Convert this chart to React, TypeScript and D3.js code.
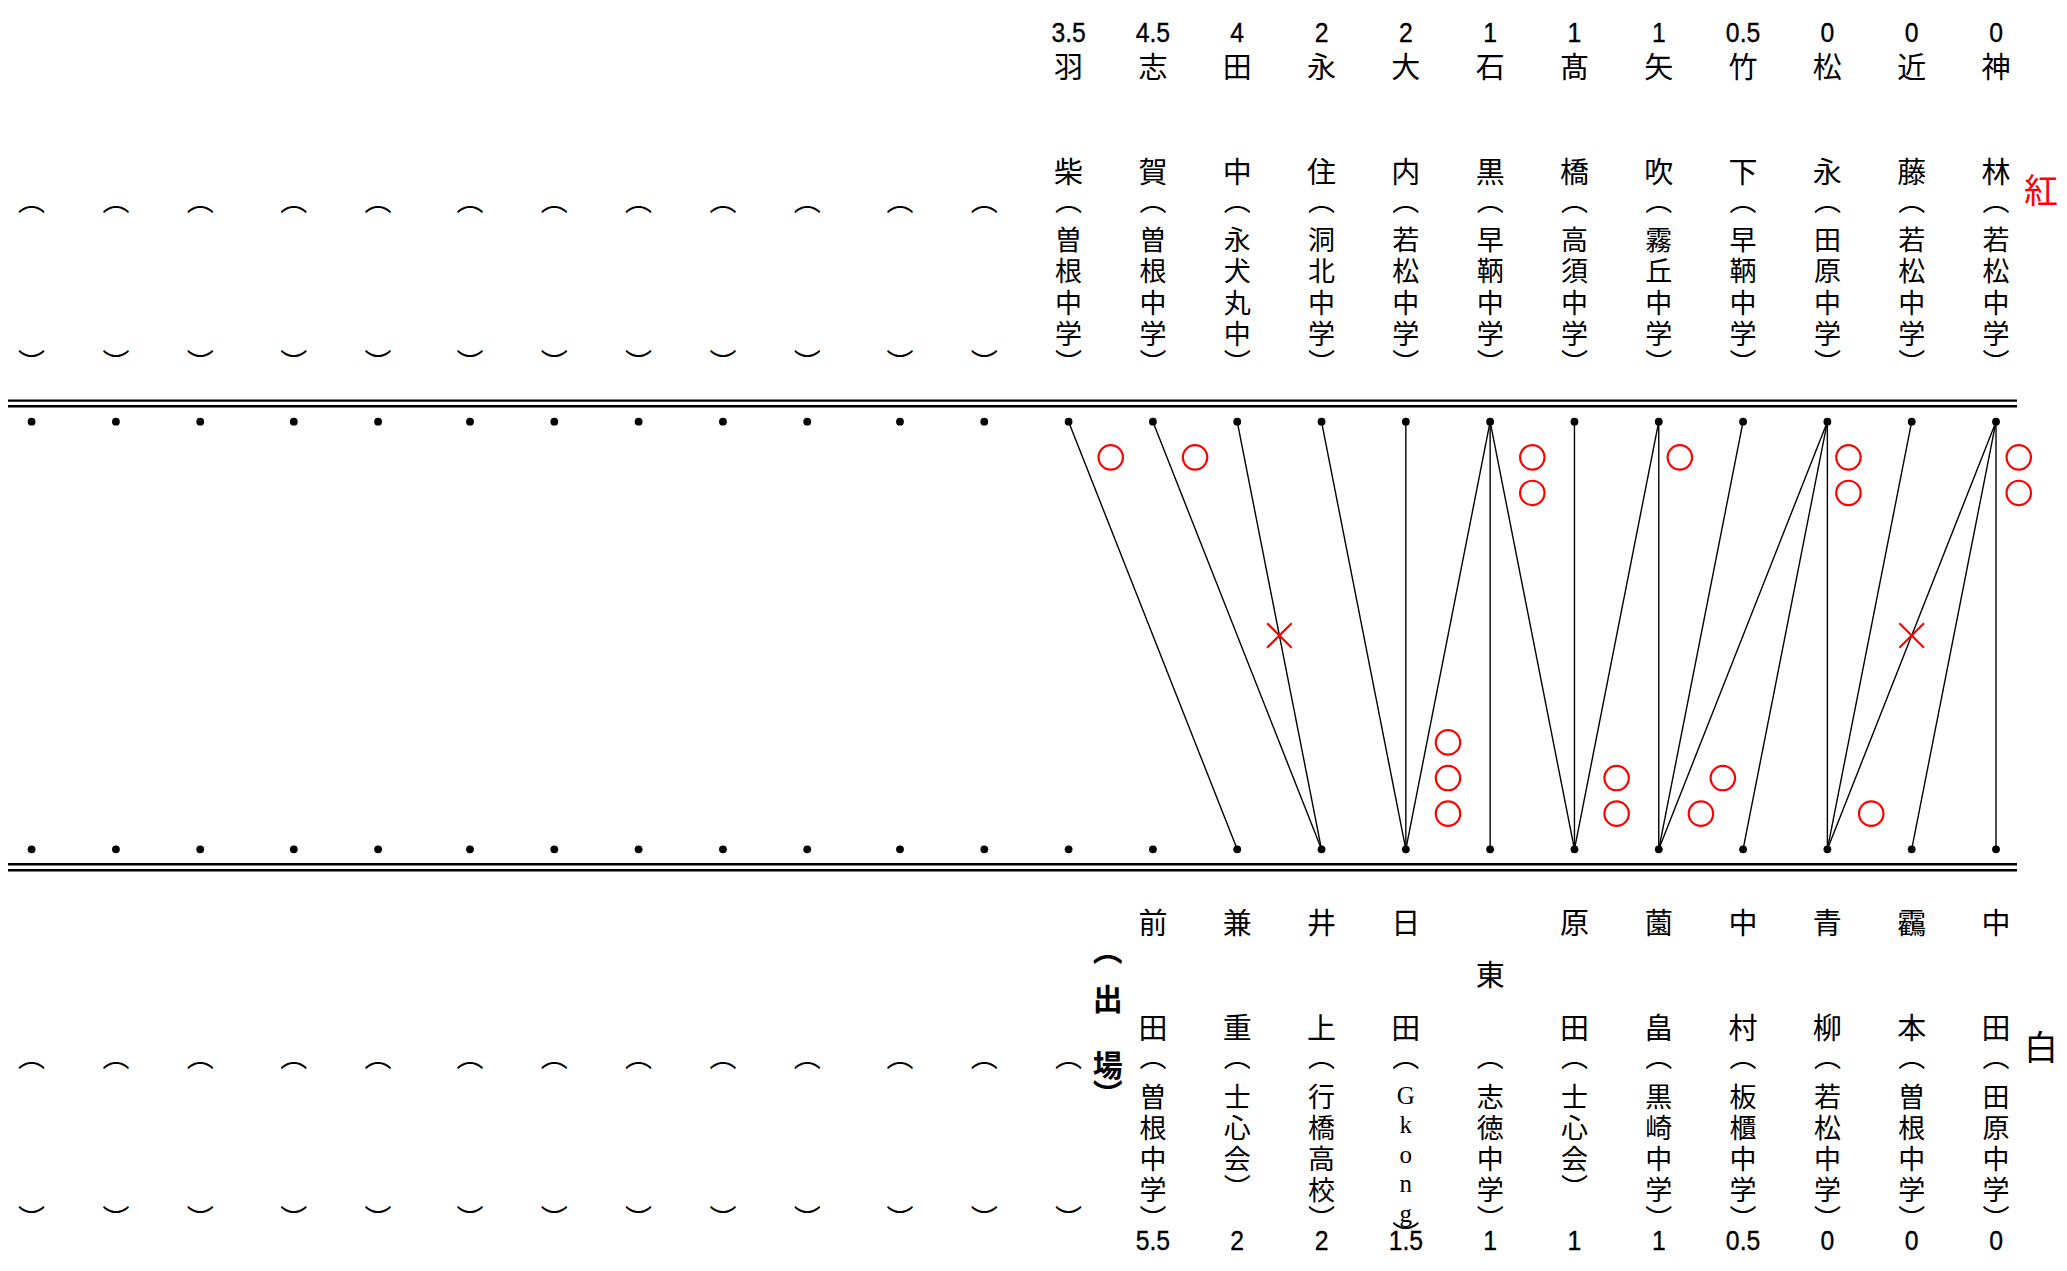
import React from 'react';
import * as d3 from 'd3';

const W = 2067;
const H = 1271;

// ---- data ----
const redScores = [3.5, 4.5, 4, 2, 2, 1, 1, 1, 0.5, 0, 0, 0];
const redNames = ["羽柴", "志賀", "田中", "永住", "大内", "石黒", "髙橋", "矢吹", "竹下", "松永", "近藤", "神林"];
const redSchools = ["曽根中学", "曽根中学", "永犬丸中", "洞北中学", "若松中学", "早鞆中学", "高須中学", "霧丘中学", "早鞆中学", "田原中学", "若松中学", "若松中学"];
const whiteNames = ["", "前田", "兼重", "井上", "日田", "東", "原田", "薗畠", "中村", "青柳", "靏本", "中田"];
const whiteSchools = ["", "曽根中学", "士心会", "行橋高校", "Gkong", "志徳中学", "士心会", "黒崎中学", "板櫃中学", "若松中学", "曽根中学", "田原中学"];
const whiteScores: (number | null)[] = [null, 5.5, 2, 2, 1.5, 1, 1, 1, 0.5, 0, 0, 0];
// bouts: [red column, white column]
const bouts: [number, number][] = [
  [0, 2], [1, 3], [2, 3], [3, 4], [4, 4], [5, 4], [5, 5], [5, 6], [6, 6], [7, 6],
  [7, 7], [8, 7], [9, 7], [9, 8], [9, 9], [10, 9], [11, 9], [11, 10], [11, 11],
];
// marks: kind, column position, row (12ths between the two dot rows)
const marks: { kind: 'o' | 'x'; col: number; row: number }[] = [
  { kind: 'o', col: 0.5, row: 1 },
  { kind: 'o', col: 1.5, row: 1 },
  { kind: 'x', col: 2.5, row: 6 },
  { kind: 'o', col: 4.5, row: 9 },
  { kind: 'o', col: 4.5, row: 10 },
  { kind: 'o', col: 4.5, row: 11 },
  { kind: 'o', col: 5.5, row: 1 },
  { kind: 'o', col: 5.5, row: 2 },
  { kind: 'o', col: 6.5, row: 10 },
  { kind: 'o', col: 6.5, row: 11 },
  { kind: 'o', col: 7.25, row: 1 },
  { kind: 'o', col: 7.76, row: 10 },
  { kind: 'o', col: 7.5, row: 11 },
  { kind: 'o', col: 9.25, row: 1 },
  { kind: 'o', col: 9.25, row: 2 },
  { kind: 'o', col: 9.52, row: 11 },
  { kind: 'x', col: 10, row: 6 },
  { kind: 'o', col: 11.27, row: 1 },
  { kind: 'o', col: 11.27, row: 2 },
];
const redLabel = "紅";
const whiteLabel = "白";
const appearLabel = ["出", "場"];

// ---- layout ----
const leftGapWeights = [1, 1, 1.11, 1, 1.09, 1, 1, 1, 1, 1.1, 1, 1];
const CJK = '"Noto Sans CJK JP", "Noto Sans CJK SC", sans-serif';
const NUM = '"Liberation Sans", Arial, sans-serif';
const RED = '#ff0000';

const x = d3.scaleLinear().domain([0, 11]).range([1068.6, 1996]);
const yRow = d3.scaleLinear().domain([0, 12]).range([421.7, 849.3]);

const leftUnits: number[] = (() => {
  const out: number[] = new Array(leftGapWeights.length);
  let acc = 0;
  for (let j = leftGapWeights.length - 1; j >= 0; j--) {
    acc += leftGapWeights[j];
    out[j] = -acc;
  }
  return out;
})();
const allUnits = [...leftUnits, ...d3.range(redNames.length)];

const SCHOOL_FS = 27;
const NAME_FS = 29;
const PITCH = 31.3;
const OPEN_DY = -39.5; // from first char centre to the opening bracket glyph centre
const CLOSE_DY = 29;

function Glyph({ cx, cy, ch, fs = SCHOOL_FS, weight = 400, family = CJK, fill = '#000' }: any) {
  return (
    <text x={cx} y={cy} fontSize={fs} fontFamily={family} fontWeight={weight}
      textAnchor="middle" dominantBaseline="central" fill={fill}>{ch}</text>
  );
}

function Score({ cx, baseline, v }: { cx: number; baseline: number; v: number }) {
  return (
    <text transform={`translate(${cx},${baseline}) scale(0.9,1)`} x={0} y={0}
      fontSize={27.5} fontFamily={NUM} textAnchor="middle" fill="#000"
      stroke="#000" strokeWidth={0.35}>{String(v)}</text>
  );
}

function School({ cx, first, text, pitch = PITCH }: { cx: number; first: number; text: string; pitch?: number }) {
  const latin = /^[A-Za-z]+$/.test(text);
  const chars = text ? Array.from(text) : ['', '', '', ''];
  const p = latin ? 29.5 : pitch;
  const last = first + (chars.length - 1) * p;
  return (
    <g>
      <Glyph cx={cx} cy={first + OPEN_DY} ch="︵" />
      {chars.map((c, i) => c ? (
        <Glyph key={i} cx={cx} cy={first + i * p} ch={c}
          fs={latin ? 25 : SCHOOL_FS}
          family={latin ? '"Liberation Serif", "DejaVu Serif", serif' : CJK} />
      ) : null)}
      <Glyph cx={cx} cy={last + (latin ? CLOSE_DY - 9 : CLOSE_DY)} ch="︶" />
    </g>
  );
}

export default function App() {
  const topDotY = yRow(0);
  const botDotY = yRow(12);
  const appearX = (x(0) + x(1)) / 2 - 3;
  return (
    <>
      <style>{`html,body{margin:0;padding:0;overflow:hidden;background:#fff}`}</style>
      <svg width={W} height={H} viewBox={`0 0 ${W} ${H}`}
        style={{ position: 'absolute', left: 0, top: 0, background: '#fff' }}>
        {/* double rules */}
        {[400.6, 406.2, 864.2, 870.2].map((yy, i) => (
          <line key={i} x1={8} x2={2017} y1={yy} y2={yy} stroke="#000" strokeWidth={2.4} />
        ))}

        {/* bout lines */}
        {bouts.map(([r, w], i) => (
          <line key={i} x1={x(r)} y1={topDotY} x2={x(w)} y2={botDotY} stroke="#000" strokeWidth={1.4} />
        ))}

        {/* dots */}
        {allUnits.map((u, i) => (
          <g key={i}>
            <circle cx={x(u)} cy={topDotY} r={3.9} fill="#000" />
            <circle cx={x(u)} cy={botDotY} r={3.9} fill="#000" />
          </g>
        ))}

        {/* marks */}
        {marks.map((m, i) => {
          const cx = x(m.col);
          const cy = yRow(m.row);
          if (m.kind === 'o') {
            return <circle key={i} cx={cx} cy={cy} r={12.2} fill="none" stroke={RED} strokeWidth={2.2} />;
          }
          const s = 12.3;
          return (
            <g key={i} stroke={RED} strokeWidth={2.2}>
              <line x1={cx - s} y1={cy - s} x2={cx + s} y2={cy + s} />
              <line x1={cx - s} y1={cy + s} x2={cx + s} y2={cy - s} />
            </g>
          );
        })}

        {/* empty columns (brackets only) */}
        {leftUnits.map((u, i) => (
          <School key={'tl' + i} cx={x(u)} first={238.5} text="" />
        ))}
        {leftUnits.map((u, i) => (
          <School key={'bl' + i} cx={x(u)} first={1095} text="" />
        ))}

        {/* red side */}
        {redNames.map((n, i) => {
          const cx = x(i);
          const chars = Array.from(n);
          return (
            <g key={'r' + i}>
              <Score cx={cx} baseline={41.5} v={redScores[i]} />
              <Glyph cx={cx} cy={65} ch={chars[0]} fs={NAME_FS} />
              <Glyph cx={cx} cy={169.5} ch={chars[1]} fs={NAME_FS} />
              <School cx={cx} first={238.5} text={redSchools[i]} />
            </g>
          );
        })}

        {/* white side */}
        {whiteNames.map((n, i) => {
          const cx = x(i);
          const chars = Array.from(n);
          const sc = whiteScores[i];
          return (
            <g key={'w' + i}>
              {chars.length === 2 && <Glyph cx={cx} cy={920.5} ch={chars[0]} fs={NAME_FS} />}
              {chars.length === 2 && <Glyph cx={cx} cy={1025.5} ch={chars[1]} fs={NAME_FS} />}
              {chars.length === 1 && <Glyph cx={cx} cy={973} ch={chars[0]} fs={NAME_FS} />}
              <School cx={cx} first={1095} text={whiteSchools[i]} pitch={31} />
              {sc !== null && <Score cx={cx} baseline={1250} v={sc} />}
            </g>
          );
        })}

        {/* (出場) */}
        <g>
          <Glyph cx={appearX} cy={948} ch="︵" fs={30} weight={700} />
          <Glyph cx={appearX} cy={997} ch={appearLabel[0]} fs={30} weight={700} />
          <Glyph cx={appearX} cy={1063} ch={appearLabel[1]} fs={30} weight={700} />
          <Glyph cx={appearX} cy={1092} ch="︶" fs={30} weight={700} />
        </g>

        <Glyph cx={2041} cy={188} ch={redLabel} fs={34} fill={RED} />
        <Glyph cx={2041} cy={1045} ch={whiteLabel} fs={34} />
      </svg>
    </>
  );
}
